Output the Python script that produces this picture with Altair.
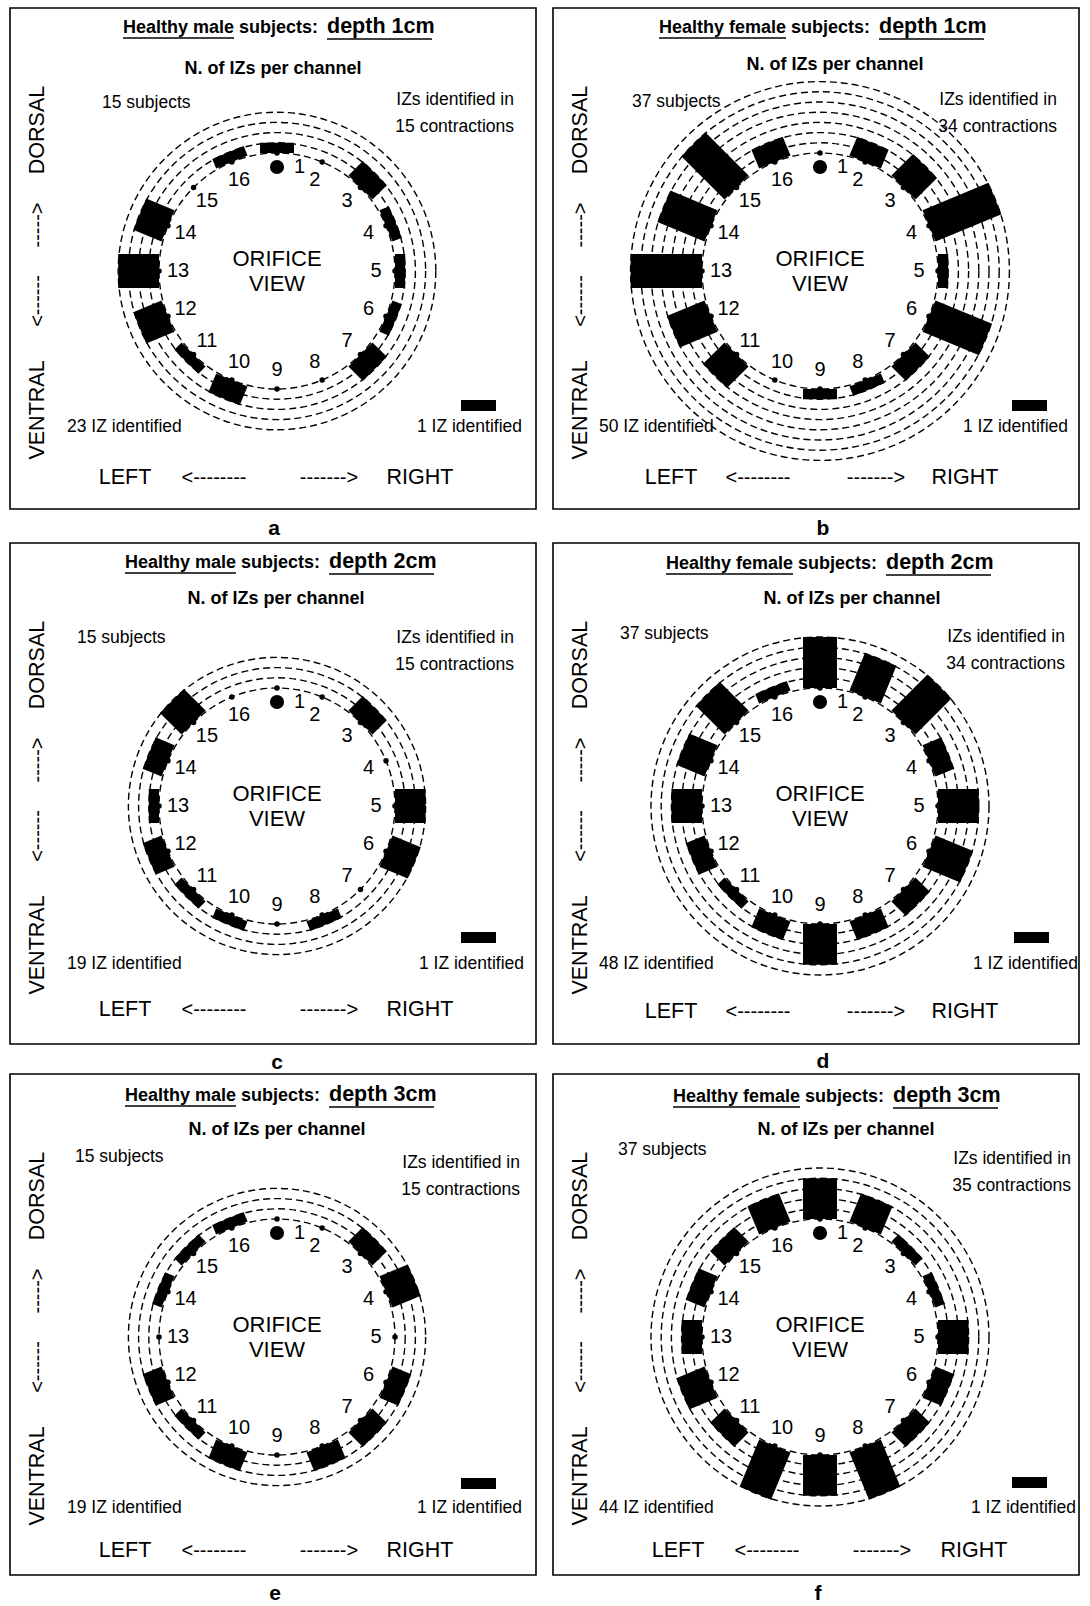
import altair as alt
import pandas as pd
import numpy as np

# ---------------- data ----------------
panel_ids = ["a", "b", "c", "d", "e", "f"]
sex = ["male", "female", "male", "female", "male", "female"]
depth = ["1cm", "1cm", "2cm", "2cm", "3cm", "3cm"]
subjects = [15, 37, 15, 37, 15, 37]
contractions = [15, 34, 15, 34, 15, 35]
iz_total = [23, 50, 19, 48, 19, 44]
channels = list(range(1, 17))

counts_a = [1, 0, 2, 1, 1, 1, 2, 0, 0, 2, 1, 3, 4, 3, 0, 1]
counts_b = [0, 2, 3, 7, 1, 6, 2, 1, 1, 0, 3, 4, 7, 5, 6, 2]
counts_c = [0, 0, 2, 0, 3, 3, 0, 1, 0, 1, 1, 2, 1, 2, 3, 0]
counts_d = [5, 4, 5, 2, 4, 4, 2, 2, 4, 2, 1, 2, 3, 3, 4, 1]
counts_e = [0, 0, 2, 3, 0, 2, 2, 2, 0, 2, 1, 2, 0, 1, 1, 1]
counts_f = [4, 3, 1, 1, 3, 2, 2, 5, 4, 5, 2, 3, 2, 2, 2, 3]
counts = [counts_a, counts_b, counts_c, counts_d, counts_e, counts_f]

# ---------------- layout ----------------
W, H = 1090, 1606
FONT = "Liberation Sans, Arial, Helvetica, sans-serif"
box_left = [10, 553, 10, 553, 10, 553]
box_top = [8, 8, 543, 543, 1074, 1074]
BOX_W, BOX_H = 526, 501
CX_REL, CY_REL = 267, 263
R0 = 118.0      # inner ring radius
UNIT = 10.2     # radial length of one IZ
BAR_W = 34      # tangential bar width
LBL_R = 99

title_x0 = [123, 659, 125, 666, 125, 673]
title_y = [28, 28, 563, 564, 1096, 1097]
nof_x = [273, 835, 276, 852, 277, 846]
nof_y = [69, 65, 599, 599, 1130, 1130]
subj_x = [102, 632, 77, 620, 75, 618]
subj_y = [103, 102, 638, 634, 1157, 1150]
izin_x = [514, 1057, 514, 1065, 520, 1071]
izin_y = [100, 100, 638, 637, 1163, 1159]
tot_x = [67, 599, 67, 599, 67, 599]
tot_y = [427, 427, 964, 964, 1508, 1508]
one_x = [522, 1068, 524, 1078, 522, 1076]
leg_x = [461, 1012, 461, 1014, 461, 1012]
leg_y = [400, 400, 932, 932, 1478, 1477]
lr_y = [478, 478, 1010, 1012, 1551, 1551]
left_x = [125, 671, 125, 671, 125, 678]
larr_x = [214, 758, 214, 758, 214, 767]
rarr_x = [329, 876, 329, 876, 329, 882]
right_x = [420, 965, 420, 965, 420, 974]
dors_x = [38, 581, 38, 581, 38, 581]
letter_xy = [(274, 529), (823, 529), (277, 1063), (823, 1062), (275, 1594), (818, 1594)]

W_HEALTHY = {"male": 111, "female": 127}
W_SUBJ = 80
W_DEPTH = 105

boxes, rings, bars, dots, bigdots, legend, unders = [], [], [], [], [], [], []
texts = []

def T(x, y, text, size, grp, angle=0):
    texts.append(dict(x=x, y=y, text=text, size=size, grp=grp, angle=angle))

for p in range(6):
    bl, bt = box_left[p], box_top[p]
    cx, cy = bl + CX_REL, bt + CY_REL
    boxes.append(dict(x=bl, x2=bl + BOX_W, y=bt, y2=bt + BOX_H))
    nmax = max(counts[p])
    for k in range(nmax + 1):
        r = R0 + k * UNIT
        rings.append(dict(x=cx, y=cy, s=(2 * r) ** 2))
    for ch, n in zip(channels, counts[p]):
        th = np.deg2rad(90 - (ch - 1) * 22.5)
        c, s = np.cos(th), np.sin(th)
        dots.append(dict(x=cx + R0 * c, y=cy - R0 * s))
        if n > 0:
            r1 = R0 + n * UNIT
            bars.append(dict(x=cx + R0 * c, y=cy - R0 * s, x2=cx + r1 * c, y2=cy - r1 * s))
        if ch == 1:
            T(cx + 17, cy - 104, "1", 20, "l_norm")
        else:
            T(cx + LBL_R * c, cy - LBL_R * s, str(ch), 20, "c_norm")
    bigdots.append(dict(x=cx, y=cy - 104))
    legend.append(dict(x=leg_x[p], x2=leg_x[p] + 35, y=leg_y[p], y2=leg_y[p] + 11))

    x0, ty = title_x0[p], title_y[p]
    wh = W_HEALTHY[sex[p]]
    T(x0, ty, f"Healthy {sex[p]}", 18, "l_bold")
    T(x0 + wh + 5, ty, "subjects:", 18, "l_bold")
    dx = x0 + wh + 5 + W_SUBJ + 8
    T(dx, ty - 1, f"depth {depth[p]}", 21.5, "l_bold")
    unders.append(dict(x=x0, x2=x0 + wh, y=ty + 10))
    unders.append(dict(x=dx, x2=dx + W_DEPTH, y=ty + 11))

    T(nof_x[p], nof_y[p], "N. of IZs per channel", 18, "c_bold")
    T(subj_x[p], subj_y[p], f"{subjects[p]} subjects", 17.5, "l_norm")
    T(izin_x[p], izin_y[p], "IZs identified in", 17.5, "r_norm")
    T(izin_x[p], izin_y[p] + 27, f"{contractions[p]} contractions", 17.5, "r_norm")
    T(tot_x[p], tot_y[p], f"{iz_total[p]} IZ identified", 17.5, "l_norm")
    T(one_x[p], tot_y[p], "1 IZ identified", 17.5, "r_norm")
    T(cx, cy - 12, "ORIFICE", 22, "c_norm")
    T(cx, cy + 13, "VIEW", 22, "c_norm")
    T(left_x[p], lr_y[p], "LEFT", 21.5, "c_norm")
    T(larr_x[p], lr_y[p], "<--------", 20, "c_norm")
    T(rarr_x[p], lr_y[p], "------->", 20, "c_norm")
    T(right_x[p], lr_y[p], "RIGHT", 21.5, "c_norm")
    T(dors_x[p], bt + 122, "DORSAL", 21.5, "c_norm", 270)
    T(dors_x[p], bt + 217, "----->", 20, "c_norm", 270)
    T(dors_x[p], bt + 293, "<------", 20, "c_norm", 270)
    T(dors_x[p], bt + 402, "VENTRAL", 21.5, "c_norm", 270)
    lx, ly = letter_xy[p]
    T(lx, ly, panel_ids[p], 21, "c_bold")

XS = alt.Scale(domain=[0, W], nice=False, zero=False)
YS = alt.Scale(domain=[0, H], nice=False, zero=False, reverse=True)

def X(f="x"):
    return alt.X(f"{f}:Q", scale=XS, axis=None)

def Y(f="y"):
    return alt.Y(f"{f}:Q", scale=YS, axis=None)

layers = []
layers.append(alt.Chart(pd.DataFrame(boxes)).mark_rect(fill=None, stroke="black", strokeWidth=1.6).encode(
    x=X(), x2="x2:Q", y=Y(), y2="y2:Q"))
layers.append(alt.Chart(pd.DataFrame(rings)).mark_point(shape="circle", filled=False, color="black",
    strokeWidth=1.4, strokeDash=[7, 4], opacity=1).encode(
    x=X(), y=Y(), size=alt.Size("s:Q", scale=None)))
layers.append(alt.Chart(pd.DataFrame(bars)).mark_rule(color="black", strokeWidth=BAR_W, strokeCap="butt").encode(
    x=X(), y=Y(), x2="x2:Q", y2="y2:Q"))
layers.append(alt.Chart(pd.DataFrame(dots)).mark_point(shape="circle", filled=True, color="black", opacity=1, size=30).encode(
    x=X(), y=Y()))
layers.append(alt.Chart(pd.DataFrame(bigdots)).mark_point(shape="circle", filled=True, color="black", opacity=1, size=200).encode(
    x=X(), y=Y()))
layers.append(alt.Chart(pd.DataFrame(legend)).mark_rect(color="black").encode(
    x=X(), x2="x2:Q", y=Y(), y2="y2:Q"))
layers.append(alt.Chart(pd.DataFrame(unders)).mark_rule(color="black", strokeWidth=1.5).encode(
    x=X(), x2="x2:Q", y=Y()))

tdf = pd.DataFrame(texts)
for grp, align, weight in [("l_norm", "left", "normal"), ("c_norm", "center", "normal"),
                           ("r_norm", "right", "normal"), ("l_bold", "left", "bold"),
                           ("c_bold", "center", "bold")]:
    sub = tdf[tdf.grp == grp]
    if len(sub) == 0:
        continue
    layers.append(alt.Chart(sub).mark_text(align=align, baseline="middle", font=FONT,
                                           fontWeight=weight, color="black").encode(
        x=X(), y=Y(), text="text:N",
        size=alt.Size("size:Q", scale=None),
        angle=alt.Angle("angle:Q", scale=None)))

chart = alt.layer(*layers).properties(
    width=W, height=H, padding=0, background="white",
    autosize=alt.AutoSizeParams(type="none"),
).configure_view(stroke=None)

chart.save("out.html", embed_options={"renderer": "svg", "actions": False})
